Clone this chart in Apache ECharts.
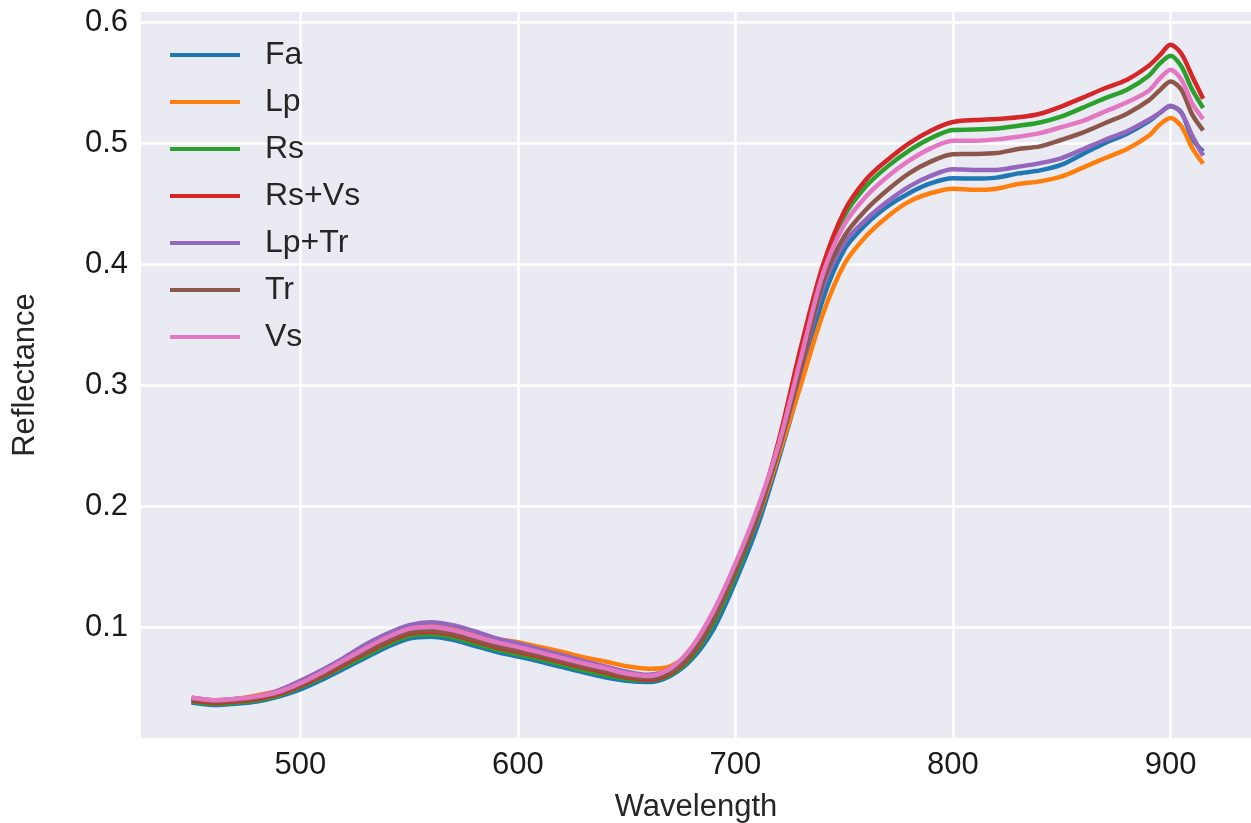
<!DOCTYPE html>
<html style="height: 100%">

<head>
    <meta charset="utf-8">
    <title>Reflectance</title>
    <script type="text/javascript" src="https://cdn.jsdelivr.net/npm/echarts@6/dist/echarts.min.js"></script>
</head>

<body style="height: 100%; margin: 0; background: #fff">
    <div id="container" style="width: 1251px; height: 823px"></div>

    <script type="text/javascript">
        // 波长 (nm)
        var wavelength = [450, 460, 470, 480, 490, 500, 510, 520, 530, 540,
            550, 560, 570, 580, 590, 600, 610, 620, 630, 640,
            650, 660, 670, 680, 690, 700, 710, 720, 730, 740,
            750, 760, 770, 780, 790, 800, 810, 820, 830, 840,
            850, 860, 870, 880, 890, 895, 900, 905, 910, 915];

        var names = ['Fa', 'Lp', 'Rs', 'Rs+Vs', 'Lp+Tr', 'Tr', 'Vs'];
        var colors = ['#1f77b4', '#ff7f0e', '#2ca02c', '#d62728', '#9467bd', '#8c564b', '#e377c2'];

        var Fa = [0.038, 0.036, 0.037, 0.039, 0.043, 0.049, 0.057, 0.066, 0.075, 0.084,
            0.091, 0.0925, 0.090, 0.085, 0.080, 0.076, 0.072, 0.0675, 0.063, 0.059,
            0.056, 0.055, 0.060, 0.074, 0.099, 0.138, 0.183, 0.240, 0.302, 0.370,
            0.412, 0.433, 0.448, 0.459, 0.467, 0.471, 0.4708, 0.4716, 0.4751, 0.4776,
            0.4823, 0.4914, 0.5002, 0.5079, 0.518, 0.525, 0.5305, 0.5255, 0.5035, 0.4933];

        var Lp = [0.042, 0.040, 0.041, 0.044, 0.048, 0.055, 0.064, 0.0735, 0.083, 0.092,
            0.100, 0.1015, 0.0995, 0.095, 0.0905, 0.088, 0.084, 0.080, 0.0755, 0.072,
            0.068, 0.066, 0.068, 0.081, 0.108, 0.146, 0.189, 0.243, 0.300, 0.358,
            0.400, 0.4231, 0.4396, 0.452, 0.4589, 0.4625, 0.4615, 0.4625, 0.4663, 0.4685,
            0.4726, 0.4801, 0.4878, 0.4952, 0.5062, 0.5153, 0.5208, 0.514, 0.496, 0.4831];

        var Rs = [0.039, 0.037, 0.038, 0.040, 0.044, 0.051, 0.059, 0.068, 0.077, 0.086,
            0.093, 0.0945, 0.092, 0.087, 0.082, 0.078, 0.074, 0.0695, 0.065, 0.061,
            0.0575, 0.0565, 0.061, 0.076, 0.104, 0.143, 0.190, 0.252, 0.327, 0.394,
            0.4396, 0.4644, 0.4809, 0.4941, 0.5043, 0.511, 0.5113, 0.5122, 0.5145, 0.5172,
            0.5222, 0.5296, 0.5373, 0.5442, 0.5558, 0.5657, 0.5723, 0.5635, 0.5442, 0.5291];

        var RsVs = [0.040, 0.038, 0.039, 0.041, 0.045, 0.052, 0.060, 0.0695, 0.079, 0.088,
            0.095, 0.0965, 0.094, 0.089, 0.084, 0.080, 0.076, 0.0715, 0.067, 0.063,
            0.059, 0.057, 0.062, 0.078, 0.107, 0.147, 0.194, 0.255, 0.331, 0.398,
            0.4437, 0.4699, 0.4864, 0.5002, 0.5106, 0.5175, 0.5192, 0.520, 0.5214, 0.5244,
            0.5305, 0.5379, 0.5456, 0.5525, 0.564, 0.5726, 0.5814, 0.574, 0.5552, 0.5368];

        var LpTr = [0.042, 0.040, 0.041, 0.043, 0.048, 0.056, 0.065, 0.075, 0.086, 0.095,
            0.102, 0.1045, 0.102, 0.097, 0.091, 0.087, 0.082, 0.0775, 0.0725, 0.068,
            0.0635, 0.061, 0.066, 0.083, 0.112, 0.150, 0.194, 0.248, 0.312, 0.380,
            0.4176, 0.4369, 0.452, 0.4644, 0.4732, 0.4785, 0.478, 0.478, 0.4806, 0.4836,
            0.4878, 0.4952, 0.5029, 0.5098, 0.5194, 0.525, 0.531, 0.525, 0.5062, 0.4897];

        var Tr = [0.041, 0.039, 0.040, 0.042, 0.046, 0.053, 0.061, 0.071, 0.080, 0.089,
            0.096, 0.0975, 0.095, 0.090, 0.085, 0.081, 0.077, 0.0725, 0.068, 0.064,
            0.060, 0.058, 0.063, 0.079, 0.107, 0.146, 0.191, 0.248, 0.314, 0.384,
            0.4231, 0.4451, 0.4616, 0.4754, 0.485, 0.491, 0.4911, 0.4919, 0.4952, 0.4974,
            0.5029, 0.509, 0.5167, 0.5244, 0.5354, 0.5437, 0.5511, 0.5442, 0.5236, 0.5106];

        var Vs = [0.042, 0.040, 0.041, 0.043, 0.047, 0.054, 0.063, 0.073, 0.083, 0.092,
            0.099, 0.1005, 0.098, 0.093, 0.088, 0.084, 0.0795, 0.075, 0.0705, 0.0665,
            0.062, 0.060, 0.066, 0.084, 0.114, 0.153, 0.198, 0.252, 0.322, 0.391,
            0.4327, 0.4561, 0.4726, 0.4858, 0.496, 0.502, 0.5021, 0.5032, 0.5054, 0.5084,
            0.5134, 0.5186, 0.5263, 0.5338, 0.5434, 0.5533, 0.5608, 0.5525, 0.5327, 0.520];

        // 刻度
        var xTicks = [500, 600, 700, 800, 900];
        var yTicks = [0.1, 0.2, 0.3, 0.4, 0.5, 0.6];

        var allData = [Fa, Lp, Rs, RsVs, LpTr, Tr, Vs];

        var dom = document.getElementById("container");
        var myChart = echarts.init(dom);

        //把波长和数值组合成 [x, y]
        var series = [];
        for (var i = 0; i < names.length; i++) {
            var pts = [];
            for (var j = 0; j < wavelength.length; j++) {
                pts.push([wavelength[j], allData[i][j]]);
            }
            series.push({
                name: names[i],
                type: 'line',
                smooth: 0.3,
                symbol: 'none',
                color: colors[i],
                lineStyle: { width: 4.5, color: colors[i] },
                z: 2 + i,
                data: pts
            });
        }

        var option = {
            animation: false,
            textStyle: { fontFamily: 'Liberation Sans' },
            grid: {
                left: 141,
                right: 0,
                top: 12,
                bottom: 85,
                outerBoundsMode: 'none', // 不让坐标轴名字挤压绘图区
                show: true,
                backgroundColor: '#EAEAF2',
                borderWidth: 0
            },
            legend: {
                orient: 'vertical',
                left: 170,
                top: 39,
                padding: 0,
                itemWidth: 70,
                itemHeight: 4,
                itemGap: 15,
                icon: 'rect',
                textStyle: {
                    fontSize: 32,
                    lineHeight: 32,
                    color: '#262626',
                    padding: [0, 0, 0, 20]
                },
                data: names
            },
            xAxis: {
                type: 'value',
                min: 426.75,
                max: 937,
                name: 'Wavelength',
                nameLocation: 'middle',
                nameGap: 54,
                nameTextStyle: { fontSize: 31, color: '#262626' },
                axisLine: { show: false },
                axisTick: { show: false, customValues: xTicks },
                axisLabel: { customValues: xTicks, fontSize: 31, color: '#1a1a1a', margin: 12 },
                splitLine: { show: true, lineStyle: { color: '#fff', width: 2.5 } }
            },
            yAxis: {
                type: 'value',
                min: 0.0088,
                max: 0.6084,
                name: 'Reflectance',
                nameLocation: 'middle',
                nameGap: 100,
                nameTextStyle: { fontSize: 31, color: '#262626' },
                axisLine: { show: false },
                axisTick: { show: false, customValues: yTicks },
                axisLabel: {
                    customValues: yTicks, fontSize: 31, color: '#1a1a1a', margin: 13,
                    formatter: function (v) { return v.toFixed(1); }
                },
                splitLine: { show: true, lineStyle: { color: '#fff', width: 2.5 } }
            },
            series: series
        };

        myChart.setOption(option, true);
    </script>
</body>

</html>
